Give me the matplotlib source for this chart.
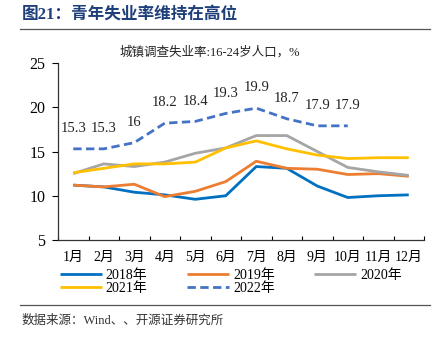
import matplotlib
matplotlib.use("Agg")
import matplotlib.pyplot as plt
from matplotlib.lines import Line2D

plt.rcParams['font.family'] = ['Liberation Serif', 'Noto Sans CJK SC', 'DejaVu Sans']

months = ["1月", "2月", "3月", "4月", "5月", "6月", "7月", "8月", "9月", "10月", "11月", "12月"]
y2018 = [11.2, 11.0, 10.4, 10.1, 9.6, 10.0, 13.3, 13.1, 11.1, 9.8, 10.0, 10.1]
y2019 = [11.2, 11.0, 11.3, 9.9, 10.5, 11.6, 13.9, 13.1, 13.0, 12.4, 12.5, 12.2]
y2020 = [12.5, 13.6, 13.3, 13.8, 14.8, 15.4, 16.8, 16.8, 15.0, 13.2, 12.7, 12.3]
y2021 = [12.6, 13.1, 13.6, 13.6, 13.8, 15.4, 16.2, 15.3, 14.6, 14.2, 14.3, 14.3]
y2022 = [15.3, 15.3, 16.0, 18.2, 18.4, 19.3, 19.9, 18.7, 17.9, 17.9]
series_names = ["2018年", "2019年", "2020年", "2021年", "2022年"]
yticks = [5, 10, 15, 20, 25]

title = "图21：青年失业率维持在高位"
subtitle = "城镇调查失业率:16-24岁人口，%"
source = "数据来源：Wind、、开源证券研究所"

colors = ["#0070C0", "#ED7D31", "#A5A5A5", "#FFC000", "#4472C4"]

fig = plt.figure(figsize=(4.44, 3.40), dpi=100)
ax = fig.add_axes([58/444, 1 - 240/340, (424 - 58)/444, (240 - 63)/340])

x = list(range(len(months)))
for data, c, name in zip([y2018, y2019, y2020, y2021], colors[:4], series_names[:4]):
    ax.plot(x[:len(data)], data, color=c, lw=2.0, label=name, solid_capstyle='butt')
x22 = x[:len(y2022)]
ax.plot(x22, y2022, color=colors[4], lw=2.0, ls=(0, (3, 1.6)), label=series_names[4])
for xi, v in zip(x22, y2022):
    ax.annotate(f"{v:g}", (xi, v), xytext=(0, 10), textcoords="offset points",
                ha="center", va="bottom", fontsize=10.5, color="#222222")

ax.set_xlim(-0.5, len(months) - 0.5)
ax.set_ylim(5, 25)
ax.set_yticks(yticks)
ax.set_xticks(x)
ax.set_xticklabels(months)
ax.set_xticks([i - 0.5 for i in range(len(months) + 1)], minor=True)
ax.tick_params(axis='x', which='major', length=0, labelsize=10, pad=8)
ax.tick_params(axis='x', which='minor', length=3, direction='in', width=0.8)
ax.tick_params(axis='y', length=4, direction='out', width=0.8, labelsize=11.5, pad=5)
for s in ["top", "right"]:
    ax.spines[s].set_visible(False)
for s in ["left", "bottom"]:
    ax.spines[s].set_linewidth(0.9)
    ax.spines[s].set_color("#333333")

# header
fig.text(22/444, 1 - 15/340, title, fontsize=12, fontweight='bold', color="#1F3F7A",
         va='center', ha='left')
fig.add_artist(Line2D([20/444, 430/444], [1 - 29/340] * 2, color="#555555", lw=0.9))
fig.text(210/444, 1 - 52/340, subtitle, fontsize=9, color="#222222", va='center', ha='center')

# legend, filled row by row: 2018 2019 2020 / 2021 2022
handles, labels = ax.get_legend_handles_labels()
order = [0, 3, 1, 4, 2]
leg = fig.legend([handles[i] for i in order], [labels[i] for i in order], ncol=3,
                 loc='upper left', bbox_to_anchor=(60/444, 1 - 269/340),
                 frameon=False, fontsize=10, handlelength=3.0, handletextpad=0.3,
                 columnspacing=2.85, labelspacing=0.0, borderaxespad=0, borderpad=0)

# footer
fig.add_artist(Line2D([20/444, 430/444], [1 - 305/340] * 2, color="#555555", lw=0.9))
fig.text(22/444, 1 - 321/340, source, fontsize=9, color="#333333", va='center', ha='left')

fig.savefig("out.png", dpi=100)
